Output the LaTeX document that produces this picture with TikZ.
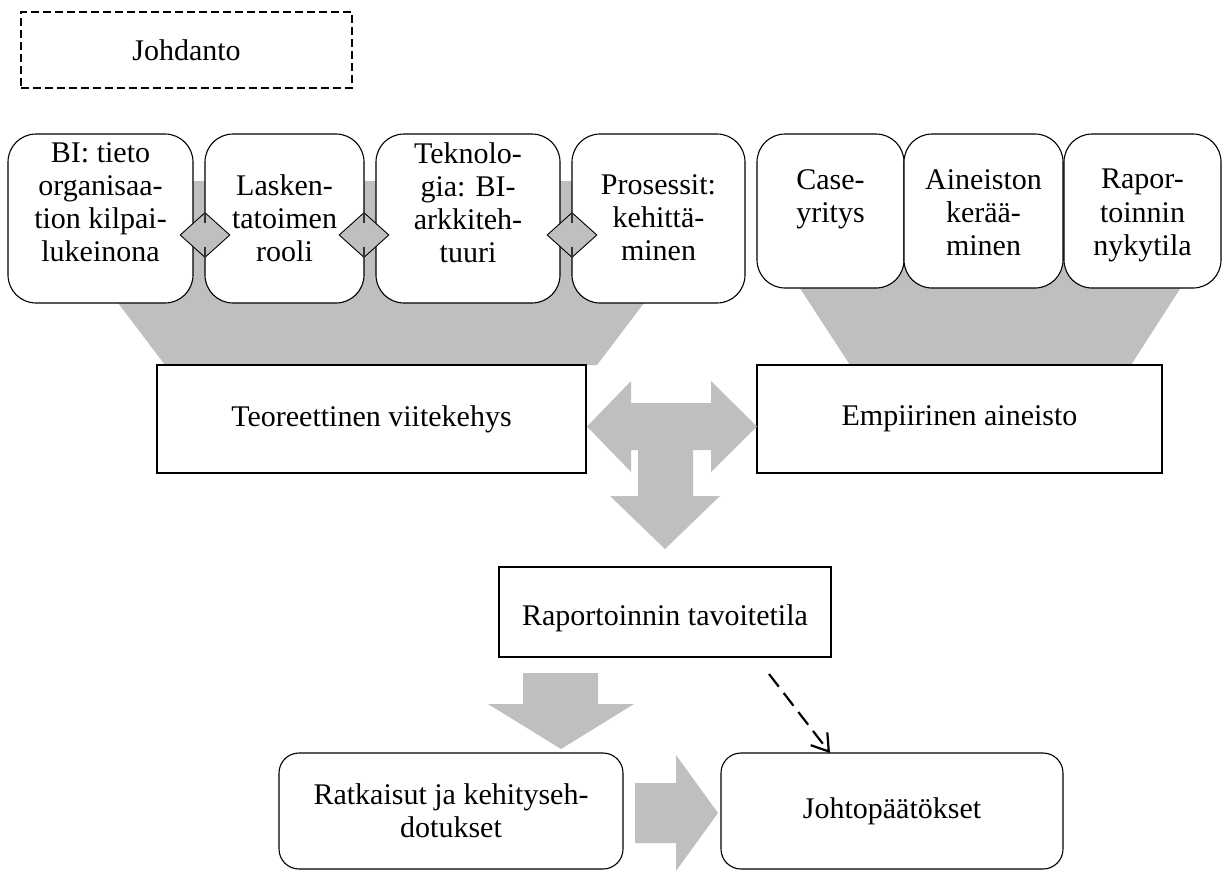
\documentclass[tikz,border=0pt]{standalone}
\usepackage{fontspec}
\setmainfont{Liberation Serif}
\usetikzlibrary{shapes.geometric,arrows.meta}
\definecolor{flowgray}{RGB}{191,191,191}

\begin{document}
\begin{tikzpicture}[x=1pt,y=-1pt,
  txt/.style={font=\fontsize{30}{33.3}\selectfont,align=center,inner sep=0pt},
  plainbox/.style={txt,draw=black,line width=1.1pt,fill=white,outer sep=0pt},
  topbox/.style={plainbox,rounded corners=28pt},
  lowbox/.style={plainbox,rounded corners=20pt},
  introbox/.style={plainbox,fill=none,dash pattern=on 8pt off 4pt,line width=1.2pt},
  toplabel/.style={txt,anchor=north},
  joint/.style={diamond,draw=black,line width=0.9pt,fill=flowgray,inner sep=0pt,
    minimum width=50pt,minimum height=45pt},
  jointbar/.style={line width=2.5pt,black!80},
  flowfill/.style={fill=flowgray},
  dasharrow/.style={line width=2.2pt,dash pattern=on 16pt off 8pt,
    -{Straight Barb[length=16pt,width=21pt,line width=2.2pt]}}
]
\useasboundingbox (0,0) rectangle (1223,871);

% funnels behind the two rows of topic boxes
\fill[flowfill] (25.5,181) -- (736.5,181) -- (597,365) -- (165,365) -- cycle;
\fill[flowfill] (775,250) -- (1205,250) -- (1131,365) -- (850,365) -- cycle;

% introduction
\node[introbox,minimum width=331pt,minimum height=76pt] (intro) at (186.5,50) {Johdanto};

% theory topics
\node[topbox,minimum width=185pt,minimum height=169pt] (bi)  at (100.5,218.5) {};
\node[topbox,minimum width=159pt,minimum height=169pt] (las) at (284.5,218.5) {};
\node[topbox,minimum width=184pt,minimum height=169pt] (tek) at (468,218.5) {};
\node[topbox,minimum width=173pt,minimum height=169pt] (pro) at (658.5,218.5) {};
\node[toplabel] (bi-t)  at ([yshift=-8pt]bi.north)  {BI: tieto\\organisaa-\\tion kilpai-\\lukeinona};
\node[toplabel] (las-t) at ([yshift=-40pt]las.north) {Lasken-\\tatoimen\\rooli};
\node[toplabel] (tek-t) at ([yshift=-8pt]tek.north) {Teknolo-\\gia: BI-\\arkkiteh-\\tuuri};
\node[toplabel] (pro-t) at ([yshift=-40pt]pro.north) {Prosessit:\\kehittä-\\minen};

% empirical topics
\node[topbox,minimum width=147pt,minimum height=154pt] (cas) at (830.5,211) {};
\node[topbox,minimum width=159pt,minimum height=154pt] (ain) at (983.5,211) {};
\node[topbox,minimum width=157pt,minimum height=154pt] (nyk) at (1142.5,211) {};
\node[toplabel] (cas-t) at ([yshift=-35pt]cas.north) {Case-\\yritys};
\node[toplabel] (ain-t) at ([yshift=-35pt]ain.north) {Aineiston\\kerää-\\minen};
\node[toplabel] (nyk-t) at ([yshift=-35pt]nyk.north) {Rapor-\\toinnin\\nykytila};

% joints between theory topics
\foreach \jx/\jn in {205/j1,364/j2,572/j3}{
  \node[joint] (\jn) at (\jx,235) {};
  \draw[jointbar] (\jn.north) -- ++(0,11);
  \draw[jointbar] (\jn.south) -- ++(0,-11);
}

% frameworks
\node[plainbox,minimum width=429pt,minimum height=108pt] (teo) at (371.5,419) {Teoreettinen viitekehys};
\node[plainbox,minimum width=405pt,minimum height=108pt] (emp) at (959.5,419) {Empiirinen aineisto};

% three-way arrow between the frameworks
\fill[flowfill] (587,426.5) -- (631,381) -- (631,403) -- (711,403) -- (711,381) -- (757,426.5)
  -- (711,472) -- (711,450) -- (693,450) -- (693,496) -- (720,496) -- (665,549)
  -- (610,496) -- (638,496) -- (638,450) -- (631,450) -- (631,472) -- cycle;

% target state
\node[plainbox,minimum width=332pt,minimum height=90pt] (tav) at (665,612) {};
\node[txt] (tav-t) at ([yshift=-6pt]tav.center) {Raportoinnin tavoitetila};

% arrow down to the solutions
\fill[flowfill] (523,673) -- (598,673) -- (598,704) -- (634,704) -- (561,749) -- (488,704) -- (523,704) -- cycle;

% results
\node[lowbox,minimum width=344pt,minimum height=116pt] (rat) at (451,811) {Ratkaisut ja kehityseh-\\dotukset};
\node[lowbox,minimum width=342pt,minimum height=116pt] (jop) at (892,811) {Johtopäätökset};

% arrow from solutions to conclusions
\fill[flowfill] (635,783) -- (676,783) -- (676,755) -- (718,813) -- (676,871) -- (676,843) -- (635,843) -- cycle;

% dashed link from the target state to the conclusions
\coordinate (dashstart) at (769,674);
\draw[dasharrow] (dashstart) -- ([xshift=-62pt]jop.north);
\end{tikzpicture}
\end{document}
